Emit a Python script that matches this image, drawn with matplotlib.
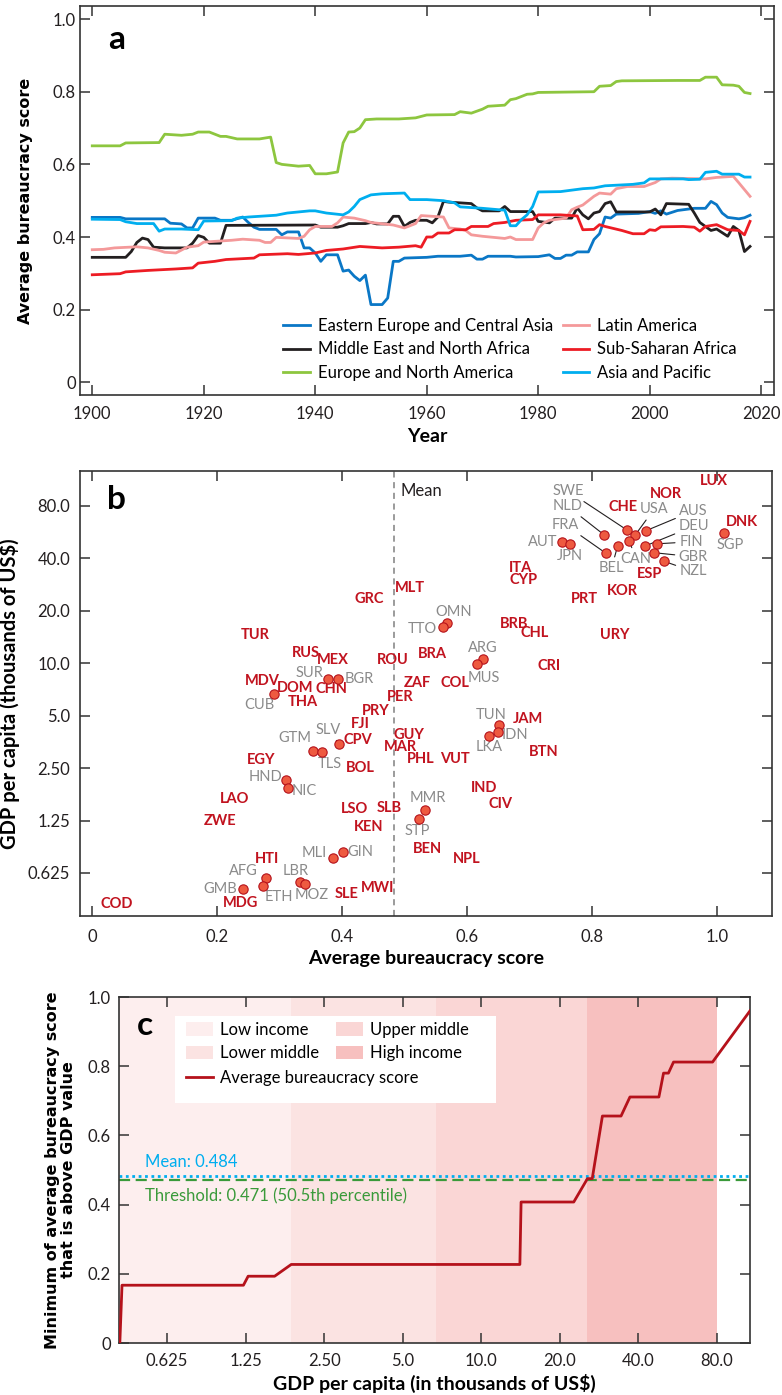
import matplotlib
matplotlib.use("Agg")
import matplotlib.pyplot as plt
from matplotlib.patches import Patch, Rectangle
from matplotlib.lines import Line2D

plt.rcParams['font.family'] = ['Lato', 'DejaVu Sans']
plt.rcParams['axes.linewidth'] = 1.2
plt.rcParams['axes.edgecolor'] = '#333333'

# ---------------- panel a: regional averages over time ----------------
eeca_years = [1900, 1905, 1906, 1913, 1914, 1916, 1917, 1918, 1919, 1922, 1923, 1925, 1927, 1928, 1929, 1930,
              1933, 1934, 1935, 1937, 1938, 1939, 1940, 1941, 1942, 1944, 1945, 1946, 1947, 1948, 1949, 1950,
              1952, 1953, 1954, 1955, 1956, 1960, 1962, 1966, 1968, 1969, 1970, 1971, 1975, 1976, 1980, 1982,
              1983, 1984, 1985, 1986, 1987, 1989, 1990, 1991, 1992, 1993, 1994, 1998, 2000, 2001, 2002, 2003,
              2005, 2008, 2010, 2011, 2012, 2013, 2014, 2016, 2017, 2018]
eeca_vals = [.454, .454, .450, .450, .438, .436, .425, .425, .452, .452, .446, .446, .455, .440, .427, .421,
             .421, .406, .414, .414, .370, .370, .356, .333, .351, .351, .306, .309, .292, .280, .295, .214,
             .214, .232, .333, .333, .342, .344, .347, .347, .350, .339, .339, .347, .347, .345, .346, .351,
             .341, .341, .350, .350, .359, .359, .393, .409, .455, .452, .463, .465, .470, .465, .472, .463,
             .473, .479, .479, .498, .489, .466, .454, .450, .453, .460]

mena_years = [1900, 1906, 1907, 1908, 1909, 1910, 1911, 1913, 1917, 1918, 1919, 1920, 1921, 1923, 1924, 1940,
              1941, 1944, 1945, 1946, 1949, 1950, 1951, 1953, 1954, 1955, 1956, 1957, 1958, 1960, 1961, 1962,
              1963, 1964, 1968, 1969, 1970, 1973, 1974, 1975, 1979, 1980, 1982, 1983, 1986, 1987, 1988, 1989,
              1990, 1991, 1992, 1993, 1994, 2000, 2001, 2002, 2003, 2007, 2008, 2009, 2010, 2011, 2012, 2014,
              2015, 2016, 2017, 2018]
mena_vals = [.344, .344, .360, .385, .397, .393, .372, .370, .370, .383, .404, .399, .383, .383, .432, .433,
             .427, .427, .431, .437, .437, .440, .436, .436, .457, .457, .429, .440, .446, .446, .439, .455,
             .498, .496, .492, .480, .472, .472, .484, .470, .470, .443, .439, .452, .452, .480, .461, .450,
             .466, .470, .492, .497, .469, .469, .477, .461, .492, .490, .466, .440, .429, .418, .422, .402,
             .429, .418, .360, .374]

ena_years = [1900, 1905, 1906, 1912, 1913, 1916, 1918, 1919, 1921, 1923, 1924, 1926, 1930, 1932, 1933, 1934,
             1937, 1939, 1940, 1942, 1944, 1945, 1946, 1947, 1948, 1949, 1951, 1955, 1958, 1960, 1965, 1966,
             1968, 1970, 1971, 1974, 1975, 1976, 1978, 1979, 1980, 1990, 1991, 1993, 1994, 1995, 2005, 2009,
             2010, 2012, 2013, 2015, 2016, 2017, 2018]
ena_vals = [.651, .651, .659, .660, .683, .680, .683, .689, .689, .677, .677, .670, .670, .675, .605, .600,
            .595, .597, .574, .574, .579, .659, .689, .690, .700, .723, .725, .725, .728, .736, .737, .745,
            .741, .752, .760, .763, .778, .781, .793, .794, .798, .800, .815, .817, .828, .830, .831, .831,
            .840, .840, .819, .818, .815, .798, .795]

lat_years = [1900, 1902, 1904, 1908, 1910, 1912, 1913, 1915, 1917, 1919, 1920, 1925, 1927, 1930, 1931, 1932,
             1933, 1937, 1938, 1939, 1940, 1943, 1944, 1945, 1947, 1949, 1950, 1954, 1956, 1958, 1959, 1963,
             1964, 1966, 1967, 1968, 1970, 1974, 1975, 1976, 1979, 1980, 1981, 1982, 1985, 1986, 1987, 1988,
             1990, 1991, 1993, 1994, 1996, 1999, 2001, 2002, 2004, 2010, 2012, 2015, 2016, 2018]
lat_vals = [.365, .366, .370, .373, .370, .363, .358, .356, .372, .376, .386, .391, .394, .391, .385, .385,
            .399, .396, .402, .420, .429, .429, .439, .455, .452, .445, .440, .433, .425, .437, .459, .455,
            .425, .422, .418, .406, .402, .396, .400, .393, .393, .425, .439, .446, .452, .475, .482, .488,
            .512, .521, .518, .533, .539, .539, .550, .560, .562, .560, .564, .567, .549, .512]

ssa_years = [1900, 1905, 1906, 1910, 1915, 1918, 1919, 1922, 1924, 1929, 1930, 1935, 1937, 1940, 1942, 1945,
             1948, 1950, 1952, 1955, 1958, 1959, 1960, 1961, 1962, 1964, 1965, 1967, 1968, 1971, 1972, 1974,
             1976, 1979, 1980, 1984, 1986, 1987, 1988, 1990, 1991, 1992, 1995, 1997, 1999, 2000, 2001, 2002,
             2006, 2008, 2009, 2010, 2012, 2014, 2016, 2017, 2018]
ssa_vals = [.296, .299, .304, .308, .312, .315, .328, .333, .338, .342, .351, .354, .352, .356, .363, .367,
            .374, .372, .370, .372, .376, .372, .400, .400, .411, .411, .420, .420, .429, .429, .437, .440,
            .446, .448, .461, .461, .459, .458, .420, .421, .434, .429, .418, .409, .409, .420, .418, .428,
            .429, .427, .416, .429, .434, .420, .418, .406, .443]

asp_years = [1900, 1905, 1906, 1908, 1911, 1912, 1913, 1916, 1919, 1920, 1925, 1926, 1928, 1930, 1933, 1935,
             1937, 1939, 1940, 1942, 1945, 1946, 1947, 1948, 1950, 1952, 1956, 1957, 1960, 1963, 1965, 1966,
             1970, 1973, 1974, 1975, 1976, 1977, 1978, 1979, 1980, 1984, 1986, 1988, 1990, 1992, 1997, 1999,
             2000, 2006, 2007, 2009, 2010, 2012, 2013, 2016, 2017, 2018]
asp_vals = [.449, .448, .442, .437, .437, .416, .422, .422, .420, .444, .445, .452, .455, .457, .460, .466,
            .469, .472, .472, .466, .461, .469, .484, .503, .516, .519, .521, .503, .503, .500, .494, .483,
            .479, .475, .474, .431, .431, .448, .461, .484, .524, .525, .529, .533, .535, .541, .545, .549,
            .560, .560, .558, .559, .578, .581, .573, .573, .565, .565]

region_names = ["Eastern Europe and Central Asia", "Middle East and North Africa", "Europe and North America",
                "Latin America", "Sub-Saharan Africa", "Asia and Pacific"]

# ---------------- panel b: countries ----------------
red_codes = ["COD", "MDG", "HTI", "ZWE", "LAO", "EGY", "TUR", "MDV", "DOM", "THA", "RUS", "MEX", "CHN",
             "GRC", "MLT", "ROU", "BRA", "ZAF", "COL", "PER", "PRY", "FJI", "CPV", "GUY", "MAR", "PHL",
             "VUT", "BOL", "LSO", "SLB", "KEN", "BEN", "NPL", "SLE", "MWI", "ITA", "CYP", "BRB", "CHL",
             "CRI", "PRT", "KOR", "URY", "JAM", "BTN", "IND", "CIV", "LUX", "NOR", "DNK", "CHE", "ESP"]
red_score = [0.040, 0.238, 0.280, 0.205, 0.229, 0.270, 0.262, 0.273, 0.325, 0.337, 0.342, 0.385, 0.384,
             0.444, 0.509, 0.481, 0.545, 0.521, 0.581, 0.493, 0.454, 0.430, 0.426, 0.508, 0.494, 0.526,
             0.581, 0.429, 0.420, 0.476, 0.442, 0.536, 0.599, 0.408, 0.457, 0.686, 0.690, 0.676, 0.709,
             0.731, 0.788, 0.848, 0.837, 0.697, 0.722, 0.628, 0.654, 0.995, 0.918, 1.040, 0.849, 0.892]
red_gdp = [0.413, 0.422, 0.749, 1.243, 1.657, 2.79, 14.5, 7.92, 7.19, 6.03, 11.43, 10.46, 7.10,
           23.3, 27.2, 10.46, 11.28, 7.75, 7.75, 6.44, 5.30, 4.48, 3.62, 3.88, 3.31, 2.81,
           2.81, 2.50, 1.46, 1.48, 1.153, 0.855, 0.749, 0.471, 0.514, 35.2, 30.1, 16.8, 14.9,
           9.66, 23.3, 26.1, 14.6, 4.81, 3.11, 1.91, 1.56, 110.7, 93.6, 64.3, 78.5, 32.5]

gray_codes = ["CUB", "SUR", "BGR", "GTM", "TLS", "SLV", "HND", "NIC", "MLI", "GIN", "AFG", "ETH", "GMB",
              "LBR", "MOZ", "MMR", "STP", "OMN", "TTO", "ARG", "MUS", "TUN", "IDN", "LKA", "AUT", "JPN",
              "NLD", "FRA", "SWE", "USA", "CAN", "BEL", "AUS", "DEU", "FIN", "GBR", "NZL", "SGP"]
gray_score = [0.292, 0.378, 0.394, 0.353, 0.368, 0.395, 0.310, 0.313, 0.385, 0.401, 0.278, 0.273, 0.241,
              0.333, 0.341, 0.533, 0.524, 0.568, 0.562, 0.626, 0.616, 0.651, 0.650, 0.635, 0.752, 0.765,
              0.820, 0.822, 0.856, 0.869, 0.860, 0.841, 0.886, 0.885, 0.904, 0.900, 0.916, 1.011]
gray_gdp = [6.70, 8.10, 8.10, 3.14, 3.11, 3.46, 2.14, 1.93, 0.759, 0.825, 0.583, 0.524, 0.505,
            0.557, 0.538, 1.43, 1.28, 17.1, 16.2, 10.55, 9.96, 4.43, 4.03, 3.83, 49.4, 48.3,
            54.4, 42.9, 58.2, 54.4, 50.5, 47.1, 57.6, 47.1, 48.5, 43.1, 38.4, 55.9]

# label offsets in pixels (layout only) and which labels get a leader line
gray_offsets = {"CUB": (-15, -11), "SUR": (-19, 6), "BGR": (21, 0), "GTM": (-18, 13), "TLS": (8, -12),
                "SLV": (-11, 14), "HND": (-20, 3), "NIC": (17, -3), "MLI": (-18, 5), "GIN": (18, 0),
                "AFG": (-22, 7), "ETH": (16, -11), "GMB": (-22, 0), "LBR": (-4, 11), "MOZ": (7, -11),
                "MMR": (3, 12), "STP": (-2, -12), "OMN": (7, 11), "TTO": (-21, -2), "ARG": (0, 11),
                "MUS": (7, -14), "TUN": (-8, 10), "IDN": (17, -3), "LKA": (0, -11), "AUT": (-19, 0),
                "JPN": (0, -12), "NLD": (-37, 29), "FRA": (-40, 28), "SWE": (-59, 39), "USA": (19, 26),
                "CAN": (6, -18), "BEL": (-6, -22), "AUS": (48, 20), "DEU": (49, 20), "FIN": (34, 2),
                "GBR": (39, -4), "NZL": (29, -10), "SGP": (6, -12)}
leader_codes = ["SLV", "AFG", "ETH", "NLD", "FRA", "SWE", "USA", "CAN", "BEL", "AUS", "DEU", "FIN", "GBR", "NZL"]

mean_score = 0.484
threshold = 0.471

gdp_ticks = [0.625, 1.25, 2.5, 5, 10, 20, 40, 80]
gdp_ticklabels = ["0.625", "1.25", "2.50", "5.0", "10.0", "20.0", "40.0", "80.0"]

# ---------------- panel c: minimum score above GDP ----------------
gdp_c = [0.412, 0.42, 1.226, 1.278, 1.614, 1.869, 14.05, 14.2, 22.6, 25.5, 26.6, 29.1, 34.3, 37.1, 47.9,
         49.9, 52.1, 54.5, 76.9, 107]
score_c = [0, 0.167, 0.167, 0.193, 0.193, 0.227, 0.227, 0.4075, 0.4075, 0.475, 0.475, 0.656, 0.656, 0.711,
           0.711, 0.78, 0.78, 0.812, 0.812, 0.96]
band_names = ["Low income", "Lower middle", "Upper middle", "High income"]
band_edges = [0.409, 1.869, 6.69, 25.3, 80]
band_colors = ["#fdeeee", "#fbe3e2", "#fad6d5", "#f7c0bf"]

# ======================================================================
fig = plt.figure(figsize=(7.82, 13.95), dpi=100)
W, H = 782, 1395


def add_ax(l, t, r, b):
    return fig.add_axes([l / W, 1 - b / H, (r - l) / W, (b - t) / H])


def style_ticks(ax, pad_x, pad_y):
    ax.tick_params(which='both', direction='in', top=True, right=True, length=7, width=1.1,
                   color='#333333', labelsize=12, labelcolor='#231f20')
    ax.tick_params(axis='x', pad=pad_x)
    ax.tick_params(axis='y', pad=pad_y)
    ax.minorticks_off()


# ---- a ----
ax1 = add_ax(80, 6, 774, 395)
colors = ["#0a77c6", "#231f20", "#8dc63f", "#f4999a", "#ed1c24", "#00aeef"]
series = [(eeca_years, eeca_vals), (mena_years, mena_vals), (ena_years, ena_vals),
          (lat_years, lat_vals), (ssa_years, ssa_vals), (asp_years, asp_vals)]
for (yrs, vals), c, name in zip(series, colors, region_names):
    ax1.plot(yrs, vals, color=c, lw=2.0, label=name)
ax1.set_xlim(1897.8, 2022.3)
ax1.set_ylim(-0.035, 1.036)
ax1.set_xticks([1900, 1920, 1940, 1960, 1980, 2000, 2020])
ax1.set_yticks([0, 0.2, 0.4, 0.6, 0.8, 1.0])
ax1.set_yticklabels(["0", "0.2", "0.4", "0.6", "0.8", "1.0"])
style_ticks(ax1, 8, 3)
ax1.set_xlabel("Year", fontsize=14, fontweight='bold', labelpad=4)
ax1.set_ylabel("Average bureaucracy score", fontsize=11.5, fontweight='bold', family='DejaVu Sans', labelpad=14)
ax1.text(0.053, 0.913, "a", transform=ax1.transAxes, fontsize=24, fontweight='bold', ha='center', va='center')
ax1.legend(ncol=2, loc='lower left', bbox_to_anchor=(0.293, 0.036), frameon=False, fontsize=12,
           handlelength=1.6, handletextpad=0.45, columnspacing=0.6, labelspacing=0.45, borderpad=0,
           borderaxespad=0)

# ---- b ----
ax2 = add_ax(80, 471, 772, 916)
ax2.set_yscale('log')
ax2.set_xlim(-0.019, 1.088)
ax2.set_ylim(0.354, 127)
ax2.axvline(mean_score, color='#808080', lw=1.1, ls=(0, (4, 3)), zorder=1)
ax2.text(mean_score + 0.01, 0.955, "Mean", transform=ax2.get_xaxis_transform(), fontsize=12,
         ha='left', va='center', color='#231f20')
for code, x, y in zip(red_codes, red_score, red_gdp):
    ax2.text(x, y, code, color='#c1131f', fontsize=10.5, fontweight='bold', ha='center', va='center', zorder=3)
for code, x, y in zip(gray_codes, gray_score, gray_gdp):
    arrow = None
    if code in leader_codes:
        arrow = dict(arrowstyle='-', color='#231f20', lw=0.8, shrinkA=1, shrinkB=3)
    ax2.annotate(code, xy=(x, y), xytext=gray_offsets[code], textcoords='offset pixels',
                 ha='center', va='center', fontsize=10.5, color='#8a8a8a', arrowprops=arrow, zorder=2)
ax2.scatter(gray_score, gray_gdp, s=45, color='#ee5a40', edgecolor='#b5121b', linewidth=0.8, zorder=4)
ax2.set_yticks(gdp_ticks)
ax2.set_yticklabels(gdp_ticklabels)
ax2.set_xticks([0, 0.2, 0.4, 0.6, 0.8, 1.0])
ax2.set_xticklabels(["0", "0.2", "0.4", "0.6", "0.8", "1.0"])
style_ticks(ax2, 9, 7)
ax2.set_xlabel("Average bureaucracy score", fontsize=14, fontweight='bold', labelpad=4)
ax2.set_ylabel("GDP per capita (thousands of US$)", fontsize=14.5, fontweight='bold', labelpad=6)
ax2.text(0.053, 0.935, "b", transform=ax2.transAxes, fontsize=24, fontweight='bold', ha='center', va='center')

# ---- c ----
ax3 = add_ax(119, 997, 750, 1343)
ax3.set_xscale('log')
ax3.set_xlim(0.409, 107)
ax3.set_ylim(0, 1)
handles = []
for i, (name, col) in enumerate(zip(band_names, band_colors)):
    ax3.axvspan(band_edges[i], band_edges[i + 1], color=col, lw=0, zorder=0)
    handles.append(Patch(facecolor=col, edgecolor='none', label=name))
ax3.axhline(mean_score, color='#00aeef', lw=2, ls=(0, (1, 1.3)), zorder=2)
ax3.axhline(threshold, color='#3a9a3a', lw=1.6, ls=(0, (5, 2.5)), zorder=2)
ax3.plot(gdp_c, score_c, color='#b5121b', lw=2, zorder=3)
ax3.text(0.041, mean_score + 0.04, "Mean: %.3f" % mean_score, transform=ax3.get_yaxis_transform(),
         color='#00aeef', fontsize=12, ha='left', va='center')
ax3.text(0.041, threshold - 0.045, "Threshold: %.3f (50.5th percentile)" % threshold,
         transform=ax3.get_yaxis_transform(), color='#3a9a3a', fontsize=12, ha='left', va='center')

# white legend box, then the two legend blocks on top of it
ax3.add_patch(Rectangle((0.0887, 0.693), 0.5088, 0.251, transform=ax3.transAxes, facecolor='white',
                        edgecolor='none', zorder=5))
leg_kw = dict(fontsize=12, frameon=False, borderpad=0, borderaxespad=0, handlelength=1.6,
              handleheight=0.85, handletextpad=0.45, labelspacing=0.45)
leg1 = ax3.legend(handles=handles, ncol=2, loc='upper left', bbox_to_anchor=(0.106, 0.928),
                  columnspacing=1.0, **leg_kw)
leg1.set_zorder(6)
line_handle = Line2D([], [], color='#b5121b', lw=2, label="Average bureaucracy score")
leg2 = ax3.legend(handles=[line_handle], loc='upper left', bbox_to_anchor=(0.106, 0.789), **leg_kw)
leg2.set_zorder(6)
ax3.add_artist(leg1)

ax3.set_xticks(gdp_ticks)
ax3.set_xticklabels(gdp_ticklabels)
ax3.set_yticks([0, 0.2, 0.4, 0.6, 0.8, 1.0])
ax3.set_yticklabels(["0", "0.2", "0.4", "0.6", "0.8", "1.0"])
style_ticks(ax3, 7, 6)
ax3.set_xlabel("GDP per capita (in thousands of US$)", fontsize=14, fontweight='bold', labelpad=4)
ax3.set_ylabel("Minimum of average bureaucracy score\nthat is above GDP value", fontsize=11.5,
               fontweight='bold', family='DejaVu Sans', labelpad=8, linespacing=1.15)
ax3.text(0.041, 0.918, "c", transform=ax3.transAxes, fontsize=24, fontweight='bold', ha='center', va='center')

fig.savefig("out.png", dpi=100)
